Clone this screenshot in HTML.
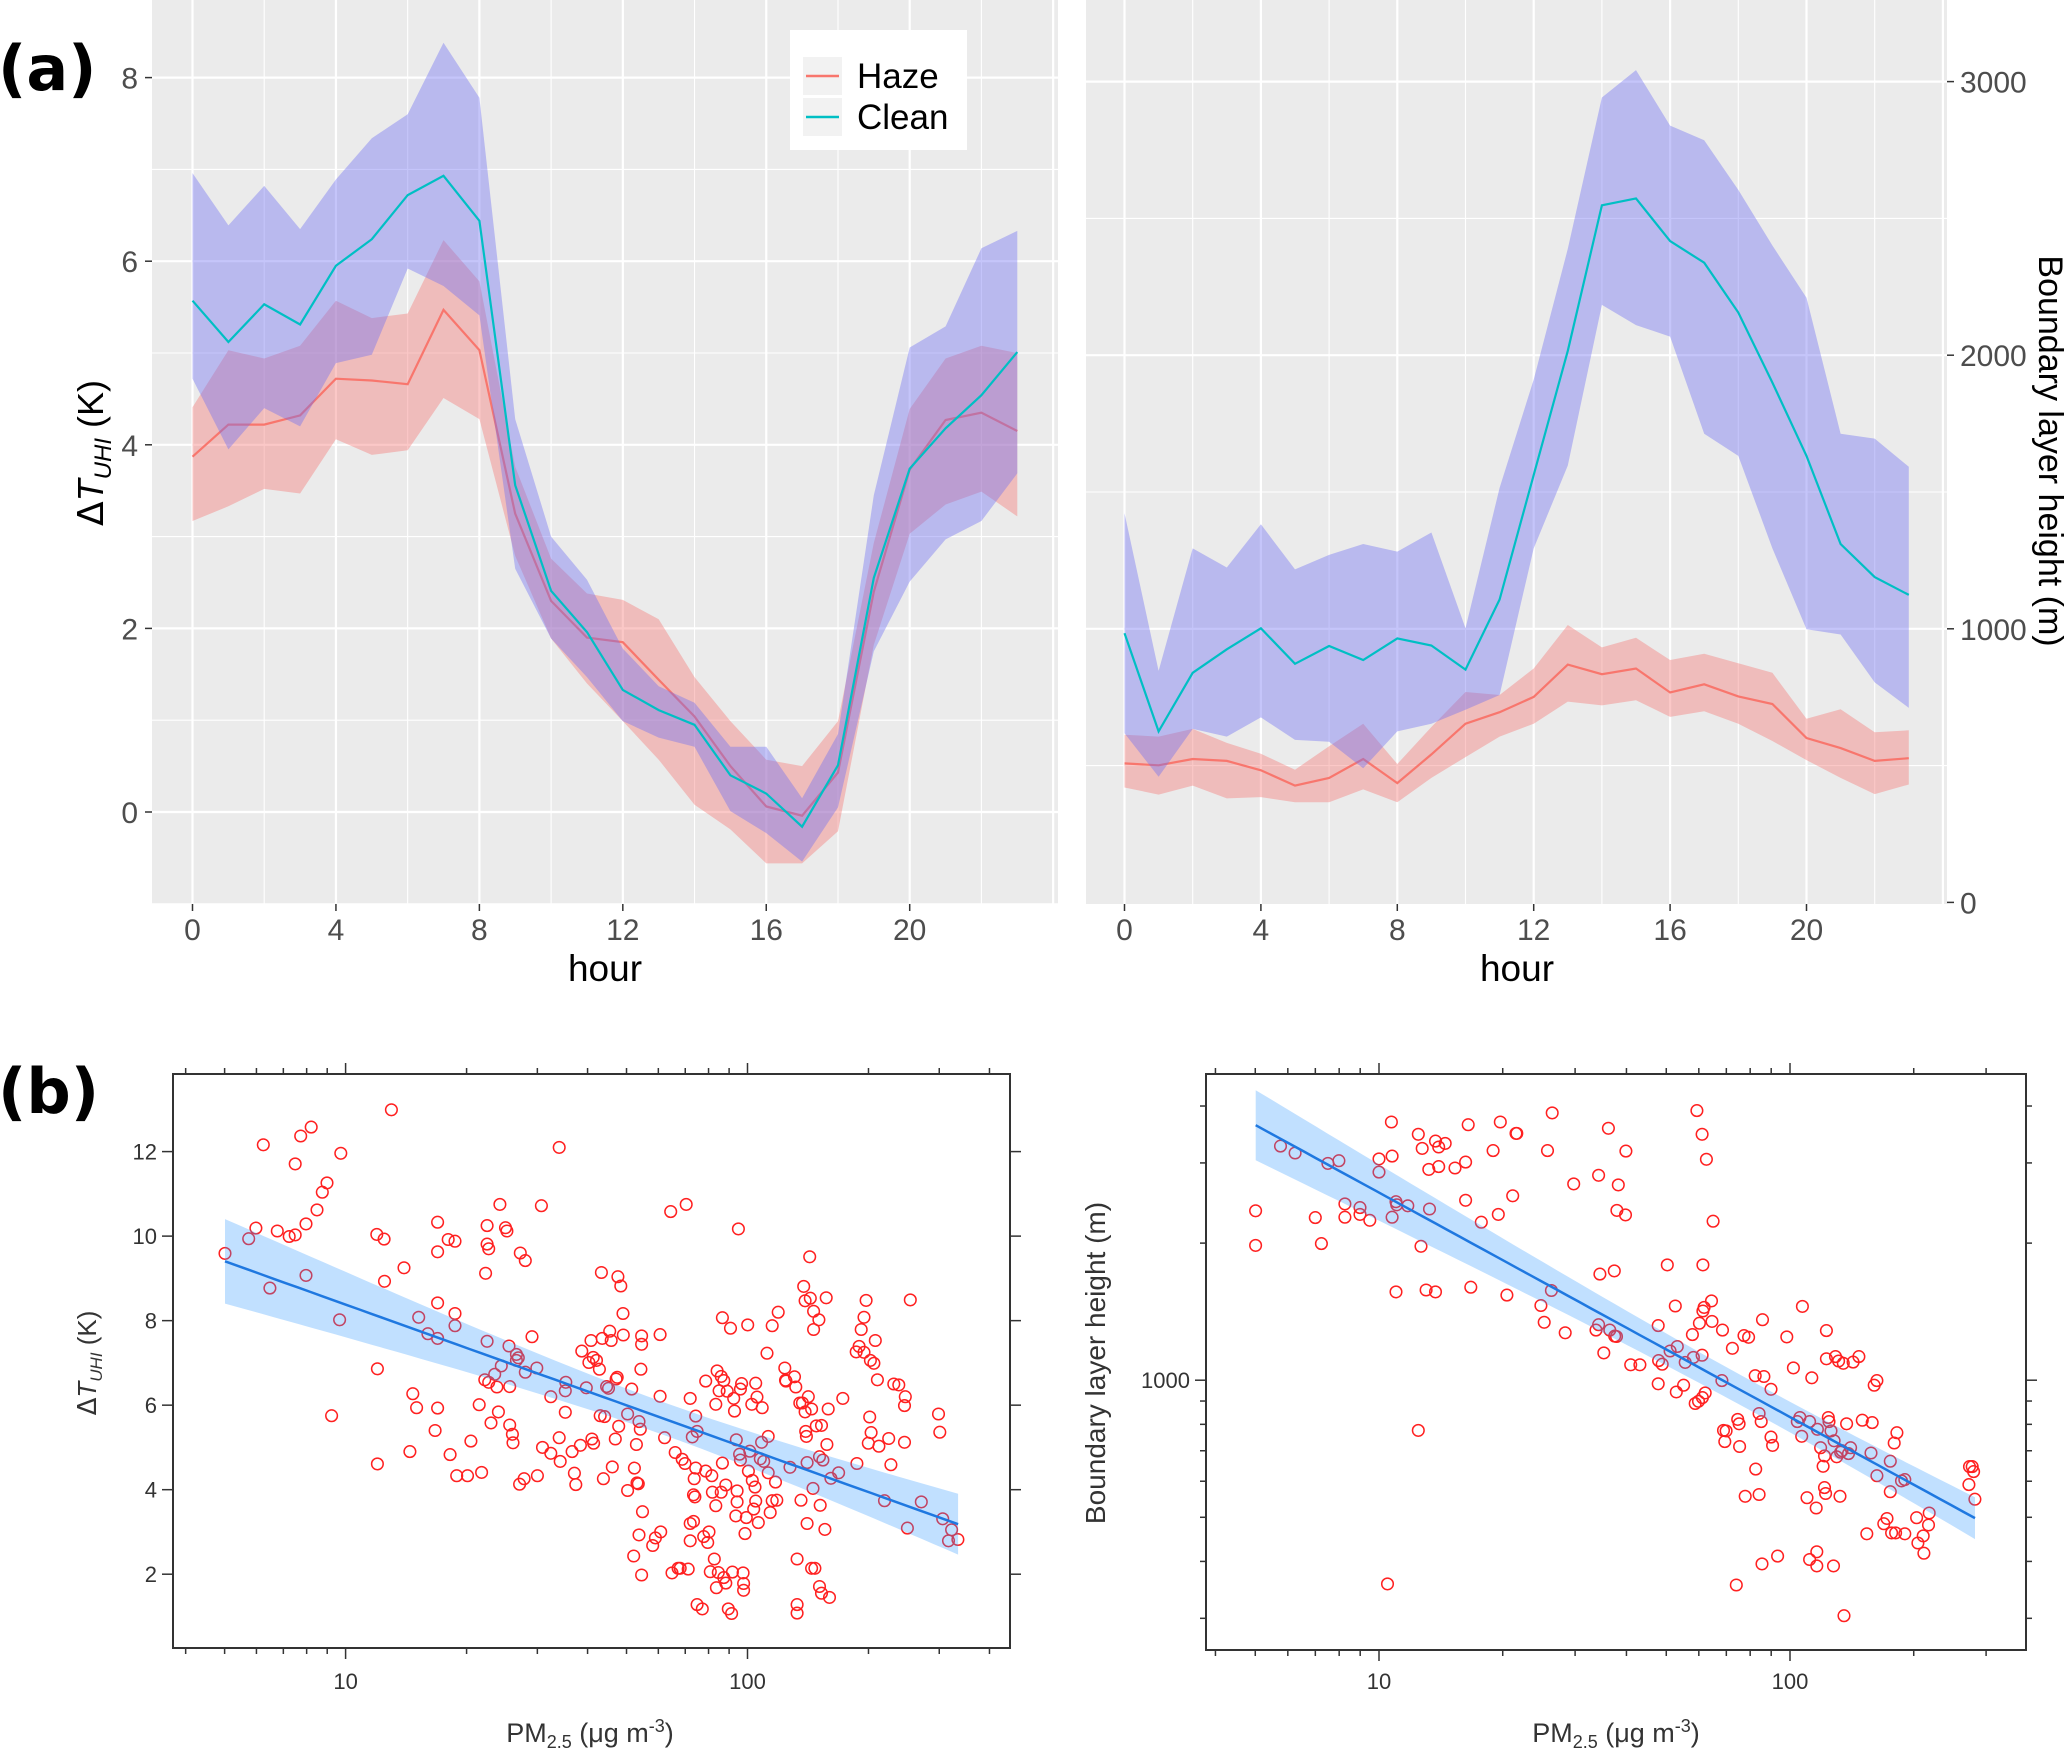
<!DOCTYPE html>
<html><head><meta charset="utf-8"><style>
html,body{margin:0;padding:0;background:#fff}
svg{display:block;font-family:"Liberation Sans",sans-serif}
</style></head><body>
<svg id="fig" width="2067" height="1754" viewBox="0 0 2067 1754" xmlns="http://www.w3.org/2000/svg">
<rect x="0" y="0" width="2067" height="1754" fill="#fff"/>
<g id="pa1"></g>
<g id="pa2"></g>
<g id="pb1"></g>
<g id="pb2"></g>
<text x="-2" y="90" font-size="62" font-weight="bold" font-family="DejaVu Sans, Liberation Sans, sans-serif">(a)</text>
<text x="-2" y="1113" font-size="62" font-weight="bold" font-family="DejaVu Sans, Liberation Sans, sans-serif">(b)</text>
</svg>
<script>
const hours=[0,1,2,3,4,5,6,7,8,9,10,11,12,13,14,15,16,17,18,19,20,21,22,23];
const hazeDT=[3.87,4.22,4.22,4.32,4.72,4.70,4.66,5.47,5.03,3.25,2.30,1.90,1.85,1.44,1.04,0.50,0.06,-0.04,0.43,2.40,3.73,4.27,4.35,4.15];
const hazeDThi=[4.41,5.03,4.94,5.08,5.57,5.38,5.43,6.23,5.78,3.76,2.76,2.38,2.31,2.10,1.47,0.99,0.57,0.50,0.99,2.93,4.39,4.94,5.08,5.00];
const hazeDTlo=[3.17,3.33,3.52,3.47,4.06,3.89,3.94,4.51,4.28,2.79,1.89,1.40,0.99,0.57,0.08,-0.19,-0.56,-0.56,-0.21,1.82,3.03,3.35,3.49,3.22];
const cleanDT=[5.57,5.12,5.53,5.31,5.95,6.24,6.72,6.93,6.44,3.56,2.41,1.96,1.33,1.11,0.95,0.40,0.20,-0.16,0.51,2.55,3.74,4.18,4.54,5.01];
const cleanDThi=[6.96,6.39,6.82,6.35,6.89,7.34,7.60,8.38,7.78,4.28,3.00,2.53,1.78,1.37,1.19,0.71,0.71,0.15,0.85,3.45,5.06,5.29,6.14,6.33];
const cleanDTlo=[4.72,3.95,4.40,4.20,4.89,4.98,5.92,5.73,5.41,2.65,1.89,1.47,0.99,0.81,0.71,0.01,-0.23,-0.54,0.05,1.75,2.51,2.97,3.17,3.69];
const hazeBLH=[508,501,524,517,483,427,455,524,436,541,653,695,751,869,834,855,767,797,753,725,601,564,517,527];
const hazeBLHhi=[613,606,634,583,543,485,571,653,506,641,769,758,855,1014,932,967,886,909,874,839,671,706,622,629];
const hazeBLHlo=[420,394,427,380,385,366,366,413,366,455,531,606,653,734,720,739,678,699,653,590,520,455,396,431];
const cleanBLH=[984,625,839,925,1002,872,937,886,965,939,851,1107,1562,2016,2548,2573,2417,2338,2156,1900,1632,1310,1189,1124];
const cleanBLHhi=[1422,846,1294,1224,1382,1217,1270,1310,1282,1352,1002,1515,1911,2389,2942,3042,2839,2786,2604,2401,2210,1713,1695,1592];
const cleanBLHlo=[618,459,634,606,676,594,587,490,625,653,704,758,1294,1597,2184,2110,2068,1713,1632,1294,998,979,804,711];
const hourTicks=[0,4,8,12,16,20];
const dtTicks=[0,2,4,6,8];
const blhTicks=[0,1000,2000,3000];

const pmA=[5.01,5.74,5.98,6.24,6.48,6.76,7.24,7.49,7.49,7.73,7.97,7.97,8.21,8.49,8.75,8.99,9.23,9.66,9.73,11.96,12.0,12.0,12.47,12.5,13.0,13.97,14.45,14.7,15.02,15.2,16.02,16.7,16.94,16.94,16.94,16.94,16.94,18.2,18.0,18.72,18.72,18.72,18.9,20.1,20.5,21.5,21.8,22.3,22.5,22.5,22.7,22.5,22.2,22.7,23.0,23.5,23.8,24.0,24.2,24.4,25.0,25.2,25.5,25.6,25.6,26.0,26.1,26.6,26.6,26.9,27.1,27.2,27.8,28.0,28.0,29.1,29.9,30.0,30.7,30.9,32.4,32.4,34.0,34.0,34.2,35.2,35.2,35.3,36.6,37.1,37.4,38.4,38.7,39.7,40.3,40.8,41.0,41.3,41.4,42.1,42.8,43.0,43.3,43.5,43.8,44.1,44.6,45.1,45.4,45.8,46.1,46.9,47.1,47.4,47.6,47.8,48.4,49.0,49.1,50.3,50.3,51.5,52.1,52.3,52.9,53.1,53.5,53.7,53.7,54.1,54.5,54.8,54.5,54.5,54.3,58.1,59.0,60.8,60.6,60.6,62.2,64.4,64.9,66.1,67.2,68.0,68.8,69.9,70.4,71.2,72.0,72.0,72.0,72.9,73.4,73.4,73.7,74.0,74.3,74.9,74.3,74.9,77.2,77.8,78.7,78.7,79.6,80.2,80.8,81.5,81.8,82.7,83.4,83.4,84.0,83.7,84.6,85.0,86.0,86.0,86.6,86.6,87.3,87.3,88.3,88.3,89.0,89.6,90.7,91.3,91.7,92.4,92.8,93.8,93.5,94.2,94.2,94.9,95.6,96.0,96.0,96.7,97.5,97.8,97.8,98.6,99.3,100.1,100.5,101.3,102.5,102.8,103.6,104.4,104.8,104.8,105.6,106.4,107.6,108.4,108.8,109.7,111.8,112.6,112.6,113.9,115.2,115.2,117.4,118.3,119.2,123.8,124.3,124.7,127.6,130.9,131.9,132.9,132.9,132.9,134.9,135.9,137.0,138.0,139.1,139.1,139.6,140.1,140.7,140.7,141.7,142.8,143.3,144.4,144.4,145.5,146.0,146.0,147.1,148.3,150.5,151.1,151.1,151.7,152.8,152.8,154.0,155.8,157.0,157.6,158.8,160.0,161.3,168.5,172.6,187.2,186.4,189.5,191.8,194.9,194.9,197.3,199.8,201.4,202.2,203.0,206.3,208.0,210.5,212.3,219.2,224.6,227.4,231.2,237.9,245.9,245.9,246.9,250.0,254.2,270.6,298.7,300.9,306.0,316.4,321.9,333.9];
const dtA=[9.59,9.94,10.19,12.16,8.77,10.12,9.99,10.03,11.71,12.37,10.29,9.07,12.58,10.62,11.04,11.26,5.75,8.02,11.96,10.04,6.86,4.61,9.93,8.93,12.99,9.25,4.90,6.27,5.94,8.08,7.69,5.40,8.42,10.33,9.63,7.58,5.93,4.83,9.92,9.88,7.88,8.17,4.33,4.33,5.15,6.01,4.41,9.12,10.25,9.81,9.70,7.51,6.60,6.54,5.58,6.73,6.43,5.84,10.75,6.93,10.20,10.12,7.40,6.44,5.53,5.31,5.11,7.06,7.20,7.12,4.13,9.60,4.26,9.42,6.78,7.62,6.88,4.33,10.72,5.00,4.86,6.20,12.10,5.23,4.67,5.83,6.34,6.54,4.90,4.39,4.12,5.05,7.28,6.41,7.01,7.53,5.20,7.13,5.10,7.06,6.85,5.75,9.14,7.58,4.26,5.73,6.44,6.40,7.75,7.53,4.54,5.20,6.62,6.66,9.04,5.50,8.82,8.17,7.66,5.79,3.98,6.38,2.43,4.51,5.07,4.16,4.14,5.61,2.93,5.43,1.98,3.48,7.64,7.44,6.85,2.68,2.86,3.00,6.21,7.67,5.23,10.58,2.03,4.88,2.14,2.14,4.72,4.62,10.75,2.12,6.16,2.79,3.20,5.25,3.25,3.88,4.26,3.83,4.51,1.28,5.74,5.38,1.18,2.89,6.57,4.44,2.75,3.00,2.06,4.33,3.94,2.36,3.62,6.02,6.81,1.68,2.04,6.34,6.68,3.94,4.63,8.07,1.92,6.58,1.79,4.11,6.33,1.18,7.82,1.07,2.05,6.16,5.86,5.18,3.38,3.97,3.71,10.17,4.84,6.38,4.70,6.51,2.03,1.78,1.62,2.96,3.34,7.90,4.44,4.91,6.02,4.22,3.54,4.06,3.73,6.52,6.19,3.22,4.73,5.12,5.94,4.67,7.23,4.40,5.26,3.46,3.74,7.88,4.18,3.75,8.20,6.88,6.59,6.57,4.53,6.67,6.43,2.36,1.28,1.08,6.05,3.75,6.05,8.81,8.47,5.84,5.38,5.26,3.20,4.64,6.20,9.51,8.53,5.91,2.14,4.03,8.22,7.79,2.14,5.51,8.02,1.71,4.78,3.63,1.55,5.52,4.70,3.06,8.54,5.07,5.91,1.45,4.27,4.40,6.16,4.62,7.26,7.39,7.79,7.25,8.08,8.48,5.10,5.72,7.06,5.35,6.99,7.53,6.60,5.03,3.74,5.21,4.59,6.50,6.48,5.99,5.12,6.20,3.09,8.49,3.71,5.79,5.36,3.31,2.79,3.05,2.82];
const fitA=[11.79,-3.41];
const fitArange=[0.70,2.524];
const bandA=[0.15,0.703,1.8];

const pmB=[5.01,5.01,5.76,6.25,7.00,7.24,7.51,7.99,8.26,8.26,8.99,8.99,9.50,10.0,10.0,10.49,10.72,10.76,10.76,11.0,11.0,11.04,11.75,12.46,12.46,12.65,12.74,13.02,13.22,13.27,13.72,13.72,13.97,13.97,14.49,15.31,16.24,16.24,16.48,16.72,17.74,18.95,19.51,19.73,20.47,21.15,21.54,21.64,24.77,25.23,25.70,26.27,26.39,28.38,29.77,33.72,34.22,34.22,34.47,35.24,36.16,36.43,37.37,37.46,37.83,37.92,38.21,39.78,39.87,40.97,43.14,47.80,47.80,47.9,48.87,50.3,51.07,52.6,52.9,53.2,55.1,55.6,57.87,58.2,58.8,59.35,59.9,60.2,61.1,61.1,61.2,61.4,61.4,61.8,62.2,62.6,64.4,64.6,65.0,68.3,68.5,68.9,69.4,69.9,72.4,74.0,74.6,75.2,75.4,77.3,77.8,79.3,82.3,82.5,84.1,84.1,85.1,85.5,85.7,86.4,89.9,89.9,90.7,93.3,98.2,101.9,104.2,105.7,106.8,107.2,110.0,111.6,113.0,111.6,115.8,116.2,116.2,116.6,118.7,120.4,121.3,121.3,122.1,122.6,122.6,123.9,124.4,125.8,127.6,128.0,129.0,129.9,131.3,132.3,132.8,133.8,134.8,135.3,137.3,138.8,140.4,142.4,147.1,149.9,153.8,157.4,158.5,160.3,162.7,162.7,169.1,172.2,175.4,175.4,176.7,179.3,180.7,182.0,186.8,190.3,190.3,203.2,204.7,210.9,211.7,217.3,218.1,272.5,273.4,277.6,279.7,281.8];
const blhB=[2355,1977,3266,3155,2275,1995,2992,3034,2438,2280,2393,2312,2244,3062,2864,357,3690,3105,2280,1563,2466,2427,2415,3467,776,1968,3228,1578,2904,2377,3350,1563,2944,3251,3311,2924,3013,2483,3639,1600,2223,3192,2312,3690,1538,2541,3483,3483,1459,1340,3192,1574,3864,1271,2698,1288,2818,1324,1710,1148,3573,1288,1738,1250,1247,2360,2685,2307,3184,1081,1081,1318,982,1104,1084,1791,1159,1455,942,1186,975,1094,1259,1122,889,3908,899,1334,1135,3467,916,1791,1419,1445,938,3055,1493,1346,2234,998,1288,776,733,774,1175,355,820,802,715,1253,556,1242,1023,638,845,561,811,395,1358,1019,955,750,719,411,1245,1064,811,828,753,1452,552,404,1012,811,524,420,391,780,711,647,581,682,564,1285,1114,828,811,774,391,736,1127,679,1102,556,695,700,1089,304,802,690,711,1096,1127,817,460,692,807,975,617,998,484,497,664,569,462,728,462,767,601,460,605,499,439,455,417,481,511,590,646,646,630,548];
const fitB=[3.905,-0.493];
const fitBrange=[0.70,2.45];
const bandB=[0.0011,0.00335,1.9];

const NS='http://www.w3.org/2000/svg';
function mk(parent,tag,attrs){const e=document.createElementNS(NS,tag);for(const k in attrs)e.setAttribute(k,attrs[k]);parent.appendChild(e);return e;}
function txt(parent,x,y,s,size,anchor,fill){const t=mk(parent,'text',{x:x,y:y,'font-size':size,'text-anchor':anchor||'middle',fill:fill||'#4d4d4d'});t.textContent=s;return t;}
function ribbonPath(xs,lo,hi,fx,fy){let d='';for(let i=0;i<xs.length;i++)d+=(i?'L':'M')+fx(xs[i]).toFixed(1)+','+fy(hi[i]).toFixed(1);for(let i=xs.length-1;i>=0;i--)d+='L'+fx(xs[i]).toFixed(1)+','+fy(lo[i]).toFixed(1);return d+'Z';}
function linePath(xs,ys,fx,fy){let d='';for(let i=0;i<xs.length;i++)d+=(i?'L':'M')+fx(xs[i]).toFixed(1)+','+fy(ys[i]).toFixed(1);return d;}

/* ---------- Panel a left ---------- */
(function(){
const g=document.getElementById('pa1');
const L=152,R=1058,T=0,B=904;
const fx=h=>192.5+h*35.86, fy=v=>812-v*91.8;
const bg=mk(g,'rect',{x:L,y:T,width:R-L,height:B-T,fill:'#ebebeb'});


for(let v=-1;v<=8;v++){const l=mk(g,'line',{x1:L,x2:R,y1:fy(v),y2:fy(v),stroke:'#fff','stroke-width':(v%2===0?2.2:1.1)});}
for(let h=0;h<=24;h+=2){const l=mk(g,'line',{x1:fx(h),x2:fx(h),y1:T,y2:B,stroke:'#fff','stroke-width':(h%4===0?2.2:1.1)});}
const rh=mk(g,'path',{d:ribbonPath(hours,hazeDTlo,hazeDThi,fx,fy),fill:'rgb(245,117,115)','fill-opacity':0.4});

const lh=mk(g,'path',{d:linePath(hours,hazeDT,fx,fy),fill:'none',stroke:'#F8766D','stroke-width':2.2});

const rc=mk(g,'path',{d:ribbonPath(hours,cleanDTlo,cleanDThi,fx,fy),fill:'rgb(110,110,242)','fill-opacity':0.4});

const lc=mk(g,'path',{d:linePath(hours,cleanDT,fx,fy),fill:'none',stroke:'#00BFC4','stroke-width':2.2});

dtTicks.forEach(v=>{const tk=mk(g,'line',{x1:145,x2:L,y1:fy(v),y2:fy(v),stroke:'#333','stroke-width':1.5});
const t=txt(g,138,fy(v)+11,String(v),30,'end');});
hourTicks.forEach(h=>{const tk=mk(g,'line',{x1:fx(h),x2:fx(h),y1:B,y2:B+7,stroke:'#333','stroke-width':1.5});
const t=txt(g,fx(h),940,String(h),30);});
const xt=txt(g,605,981,'hour',37,'middle','#000');
const yt=mk(g,'text',{x:0,y:0,'font-size':36,'text-anchor':'middle',fill:'#000',transform:'translate(103,453) rotate(-90)'});
yt.innerHTML='<tspan font-family="DejaVu Sans, sans-serif">Δ</tspan><tspan font-style="italic">T</tspan><tspan font-size="24" dy="8" font-style="italic">UHI</tspan><tspan dy="-8">  (K)</tspan>';

const lg=mk(g,'g',{});
mk(lg,'rect',{x:790,y:30,width:177,height:120,fill:'#fff'});
const k1=mk(lg,'rect',{x:803,y:57,width:39,height:38,fill:'#f2f2f2'});
const k2=mk(lg,'rect',{x:803,y:98,width:39,height:38,fill:'#f2f2f2'});
mk(lg,'line',{x1:806,x2:839,y1:76,y2:76,stroke:'#F8766D','stroke-width':2.5});
mk(lg,'line',{x1:806,x2:839,y1:117,y2:117,stroke:'#00BFC4','stroke-width':2.5});
const t1=txt(lg,857,88,'Haze',35,'start','#000');
const t2=txt(lg,857,129,'Clean',35,'start','#000');
})();

/* ---------- Panel a right ---------- */
(function(){
const g=document.getElementById('pa2');
const L=1086,R=1947,T=0,B=904;
const fx=h=>1124.5+h*34.1, fy=v=>902.4-v*0.2736;
const bg=mk(g,'rect',{x:L,y:T,width:R-L,height:B-T,fill:'#ebebeb'});

for(let v=500;v<=3000;v+=500){const l=mk(g,'line',{x1:L,x2:R,y1:fy(v),y2:fy(v),stroke:'#fff','stroke-width':(v%1000===0?2.2:1.1)});}
for(let h=0;h<=24;h+=2){const l=mk(g,'line',{x1:fx(h),x2:fx(h),y1:T,y2:B,stroke:'#fff','stroke-width':(h%4===0?2.2:1.1)});}
const rh=mk(g,'path',{d:ribbonPath(hours,hazeBLHlo,hazeBLHhi,fx,fy),fill:'rgb(245,117,115)','fill-opacity':0.4});

const lh=mk(g,'path',{d:linePath(hours,hazeBLH,fx,fy),fill:'none',stroke:'#F8766D','stroke-width':2.2});

const rc=mk(g,'path',{d:ribbonPath(hours,cleanBLHlo,cleanBLHhi,fx,fy),fill:'rgb(110,110,242)','fill-opacity':0.4});

const lc=mk(g,'path',{d:linePath(hours,cleanBLH,fx,fy),fill:'none',stroke:'#00BFC4','stroke-width':2.2});

blhTicks.forEach(v=>{const tk=mk(g,'line',{x1:R,x2:R+7,y1:fy(v),y2:fy(v),stroke:'#333','stroke-width':1.5});
const t=txt(g,1960,fy(v)+11,String(v),30,'start');});
hourTicks.forEach(h=>{const tk=mk(g,'line',{x1:fx(h),x2:fx(h),y1:B,y2:B+7,stroke:'#333','stroke-width':1.5});
const t=txt(g,fx(h),940,String(h),30);});
const xt=txt(g,1517,981,'hour',37,'middle','#000');
const yt=mk(g,'text',{x:0,y:0,'font-size':34,'text-anchor':'middle',fill:'#000',transform:'translate(2039,451) rotate(90)'});
yt.textContent='Boundary layer height (m)';
})();

/* ---------- scatter helper ---------- */
function scatter(g,box,fx,fy,xs,ys,logY,fit,range,band,yTicksMajor,yTicksMinor,yLabels){
const [L,R,T,B]=box;
const fr=mk(g,'rect',{x:L,y:T,width:R-L,height:B-T,fill:'#fff',stroke:'#333','stroke-width':2});

const xMajor=[10,100], xMinor=[4,5,6,7,8,9,20,30,40,50,60,70,80,90,200,300,400];
xMajor.concat(xMinor).forEach(v=>{const X=fx(Math.log10(v));if(X<L||X>R)return;const len=xMajor.includes(v)?11:6;
const a=mk(g,'line',{x1:X,x2:X,y1:B,y2:B+len,stroke:'#333','stroke-width':1.5});
const b=mk(g,'line',{x1:X,x2:X,y1:T,y2:T-len,stroke:'#333','stroke-width':1.5});});
xMajor.forEach(v=>{const t=txt(g,fx(Math.log10(v)),1689,String(v),22,'middle','#333');});
yTicksMajor.concat(yTicksMinor).forEach(v=>{const Y=fy(logY?Math.log10(v):v);const len=yTicksMajor.includes(v)?11:6;
const a=mk(g,'line',{x1:L,x2:L-len,y1:Y,y2:Y,stroke:'#333','stroke-width':1.5});
const b=mk(g,'line',{x1:R,x2:R+len,y1:Y,y2:Y,stroke:'#333','stroke-width':1.5});});
yLabels.forEach(v=>{const t=txt(g,L-16,fy(logY?Math.log10(v):v)+8,String(v),22,'end','#333');});
for(let i=0;i<xs.length;i++){const c=mk(g,'circle',{cx:fx(Math.log10(xs[i])).toFixed(1),cy:fy(logY?Math.log10(ys[i]):ys[i]).toFixed(1),r:5.8,fill:'none',stroke:'#ff2020','stroke-width':1.5});
}
const N=60;let up=[],lo=[],ln='';
for(let i=0;i<=N;i++){const lx=range[0]+(range[1]-range[0])*i/N;const yv=fit[0]+fit[1]*lx;const hw=Math.sqrt(band[0]+band[1]*(lx-band[2])*(lx-band[2]));
up.push(fx(lx).toFixed(1)+','+fy(yv+hw).toFixed(1));lo.push(fx(lx).toFixed(1)+','+fy(yv-hw).toFixed(1));ln+=(i?'L':'M')+fx(lx).toFixed(1)+','+fy(yv).toFixed(1);}
const bd=mk(g,'path',{d:'M'+up.join('L')+'L'+lo.reverse().join('L')+'Z',fill:'rgb(51,153,255)','fill-opacity':0.3});

const rl=mk(g,'path',{d:ln,fill:'none',stroke:'#1f78e0','stroke-width':2.5});

}

/* ---------- Panel b left ---------- */
(function(){
const g=document.getElementById('pb1');
const fx=lx=>345.6+(lx-1)*401.9, fy=v=>1574.2-(v-2)*42.26;
scatter(g,[173,1010,1074,1648],fx,fy,pmA,dtA,false,fitA,fitArange,bandA,[2,4,6,8,10,12],[],[2,4,6,8,10,12]);
const xt=mk(g,'text',{x:590,y:1742,'font-size':27,'text-anchor':'middle',fill:'#333'});
xt.innerHTML='PM<tspan font-size="18" dy="6">2.5</tspan><tspan dy="-6"> (μg m</tspan><tspan font-size="18" dy="-10">-3</tspan><tspan dy="10">)</tspan>';

const yt=mk(g,'text',{x:0,y:0,'font-size':26,'text-anchor':'middle',fill:'#333',transform:'translate(96,1363) rotate(-90)'});
yt.innerHTML='<tspan font-family="DejaVu Sans, sans-serif">Δ</tspan><tspan font-style="italic">T</tspan><tspan font-size="17" dy="6" font-style="italic">UHI</tspan><tspan dy="-6">  (K)</tspan>';

})();

/* ---------- Panel b right ---------- */
(function(){
const g=document.getElementById('pb2');
const fx=lx=>1379+(lx-1)*411, fy=ly=>1380.2-(ly-3)*455.4;
scatter(g,[1206,2026,1074,1650],fx,fy,pmB,blhB,true,fitB,fitBrange,bandB,[1000],[300,400,500,600,700,800,900,2000,3000,4000],[1000]);
const xt=mk(g,'text',{x:1616,y:1742,'font-size':27,'text-anchor':'middle',fill:'#333'});
xt.innerHTML='PM<tspan font-size="18" dy="6">2.5</tspan><tspan dy="-6"> (μg m</tspan><tspan font-size="18" dy="-10">-3</tspan><tspan dy="10">)</tspan>';

const yt=mk(g,'text',{x:0,y:0,'font-size':28,'text-anchor':'middle',fill:'#333',transform:'translate(1105,1363) rotate(-90)'});
yt.textContent='Boundary layer height (m)';
})();
</script>
</body></html>
